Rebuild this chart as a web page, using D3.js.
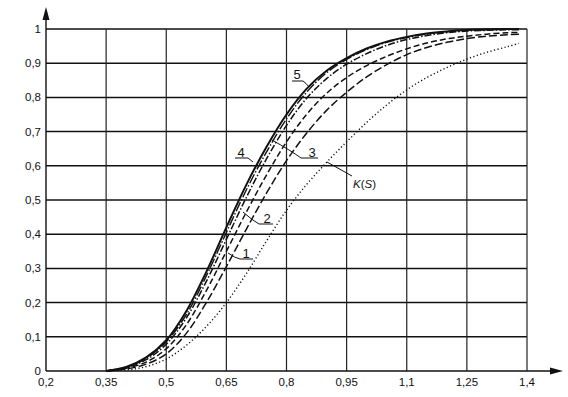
<!DOCTYPE html>
<html>
<head>
<meta charset="utf-8">
<script src="https://cdn.jsdelivr.net/npm/d3@7"></script>
<style>
  html, body { margin: 0; padding: 0; background: #fff; }
  svg { display: block; }
  text { font-family: "Liberation Sans", Arial, sans-serif; fill: #111; }
</style>
</head>
<body>
<svg id="chart" width="568" height="397"></svg>
<script>
// ---- data ----
const sValues = [0.35, 0.4, 0.45, 0.5, 0.55, 0.6, 0.65, 0.7, 0.75, 0.8, 0.85, 0.9, 0.95, 1.0, 1.05, 1.1, 1.15, 1.2, 1.25, 1.3, 1.35, 1.38];
const curve1 = [0, 0.006, 0.02, 0.05, 0.11, 0.2, 0.305, 0.415, 0.52, 0.615, 0.695, 0.762, 0.815, 0.86, 0.896, 0.925, 0.946, 0.961, 0.972, 0.979, 0.983, 0.985];
const curve2 = [0, 0.008, 0.026, 0.065, 0.135, 0.235, 0.35, 0.465, 0.573, 0.67, 0.75, 0.812, 0.858, 0.893, 0.92, 0.942, 0.959, 0.971, 0.979, 0.985, 0.989, 0.99];
const curve3 = [0, 0.01, 0.033, 0.078, 0.155, 0.262, 0.385, 0.508, 0.62, 0.718, 0.797, 0.855, 0.897, 0.928, 0.952, 0.969, 0.981, 0.989, 0.994, 0.996, 0.998, 0.998];
const curve4 = [0, 0.011, 0.037, 0.085, 0.165, 0.278, 0.405, 0.53, 0.64, 0.737, 0.815, 0.872, 0.911, 0.94, 0.961, 0.975, 0.985, 0.992, 0.996, 0.998, 0.999, 0.999];
const curve5 = [0, 0.012, 0.04, 0.09, 0.175, 0.29, 0.42, 0.545, 0.655, 0.75, 0.825, 0.878, 0.915, 0.943, 0.963, 0.977, 0.987, 0.993, 0.997, 0.999, 1.0, 1.0];
const curveK = [0, 0.003, 0.013, 0.035, 0.075, 0.13, 0.2, 0.285, 0.38, 0.47, 0.545, 0.61, 0.67, 0.727, 0.778, 0.822, 0.858, 0.887, 0.912, 0.932, 0.948, 0.958];
const xTicks = [0.2, 0.35, 0.5, 0.65, 0.8, 0.95, 1.1, 1.25, 1.4];
const yTicks = [0, 0.1, 0.2, 0.3, 0.4, 0.5, 0.6, 0.7, 0.8, 0.9, 1];
const xTickLabels = ["0,2", "0,35", "0,5", "0,65", "0,8", "0,95", "1,1", "1,25", "1,4"];
const yTickLabels = ["0", "0,1", "0,2", "0,3", "0,4", "0,5", "0,6", "0,7", "0,8", "0,9", "1"];

const svg = d3.select("#chart");
const x = d3.scaleLinear().domain([0.2, 1.4]).range([46, 527]);
const y = d3.scaleLinear().domain([0, 1]).range([371, 29]);

// grid
const g = svg.append("g");
g.selectAll("line.h").data(yTicks.slice(1)).join("line")
  .attr("x1", x(0.2)).attr("x2", x(1.4))
  .attr("y1", d => y(d)).attr("y2", d => y(d))
  .attr("stroke", "#111").attr("stroke-width", 1.5);
g.selectAll("line.v").data(xTicks.slice(1)).join("line")
  .attr("x1", d => x(d)).attr("x2", d => x(d))
  .attr("y1", y(0)).attr("y2", y(1))
  .attr("stroke", "#222").attr("stroke-width", 1.2);

// axes with arrows
svg.append("line").attr("x1", x(0.2)).attr("x2", 552).attr("y1", y(0)).attr("y2", y(0))
  .attr("stroke", "#111").attr("stroke-width", 1.4);
svg.append("path").attr("d", `M563,${y(0)} L550,${y(0) - 3.5} L550,${y(0) + 3.5} Z`).attr("fill", "#111");
svg.append("line").attr("x1", x(0.2)).attr("x2", x(0.2)).attr("y1", 18).attr("y2", y(0))
  .attr("stroke", "#111").attr("stroke-width", 1.4);
svg.append("path").attr("d", `M${x(0.2)},7 L${x(0.2) - 3.5},20 L${x(0.2) + 3.5},20 Z`).attr("fill", "#111");

// tick labels
svg.selectAll("text.xt").data(xTicks).join("text")
  .attr("x", d => x(d)).attr("y", 386)
  .attr("text-anchor", "middle").attr("font-size", 11.5)
  .text((d, i) => xTickLabels[i]);
svg.selectAll("text.yt").data(yTicks).join("text")
  .attr("x", 41).attr("y", d => y(d) + 4)
  .attr("text-anchor", "end").attr("font-size", 11.5)
  .text((d, i) => yTickLabels[i]);

// curves
const line = d3.line().x(d => x(d[0])).y(d => y(d[1])).curve(d3.curveCatmullRom.alpha(0.5));
const series = [
  { v: curveK, w: 1.4, dash: "1.2,2.4" },
  { v: curve1, w: 1.5, dash: "8,3" },
  { v: curve2, w: 1.5, dash: "6,3" },
  { v: curve3, w: 1.5, dash: "7,2,1.5,2" },
  { v: curve4, w: 1.4, dash: "10,2,1.5,2" },
  { v: curve5, w: 2.0, dash: null }
];
series.forEach(s => {
  svg.append("path")
    .datum(sValues.map((sv, i) => [sv, s.v[i]]))
    .attr("d", line)
    .attr("fill", "none")
    .attr("stroke", "#111")
    .attr("stroke-width", s.w)
    .attr("stroke-dasharray", s.dash);
});

// annotations
const ann = svg.append("g").attr("stroke", "#111").attr("stroke-width", 1).attr("fill", "none");
ann.append("path").attr("d", "M292,81 L303,81 Q306,83 309,87");
ann.append("path").attr("d", "M235,158 L248,158 L253,162");
ann.append("path").attr("d", "M272,140 Q290,150 301,158 L318,158");
ann.append("path").attr("d", "M243,212 Q252,220 259,224 L273,224");
ann.append("path").attr("d", "M228,253 Q235,258 240,259 L253,259");
ann.append("path").attr("d", "M327,162 L352,176");
const lbl = [
  { t: "5", x: 297, y: 79 },
  { t: "4", x: 241, y: 157 },
  { t: "3", x: 312, y: 157 },
  { t: "2", x: 267, y: 223 },
  { t: "1", x: 246, y: 258 }
];
svg.selectAll("text.ann").data(lbl).join("text")
  .attr("x", d => d.x).attr("y", d => d.y)
  .attr("text-anchor", "middle").attr("font-size", 13)
  .text(d => d.t);
const k = svg.append("text").attr("x", 353).attr("y", 188).attr("font-size", 11.5);
k.append("tspan").attr("font-style", "italic").text("K");
k.append("tspan").text("(");
k.append("tspan").attr("font-style", "italic").text("S");
k.append("tspan").text(")");
</script>
</body>
</html>
